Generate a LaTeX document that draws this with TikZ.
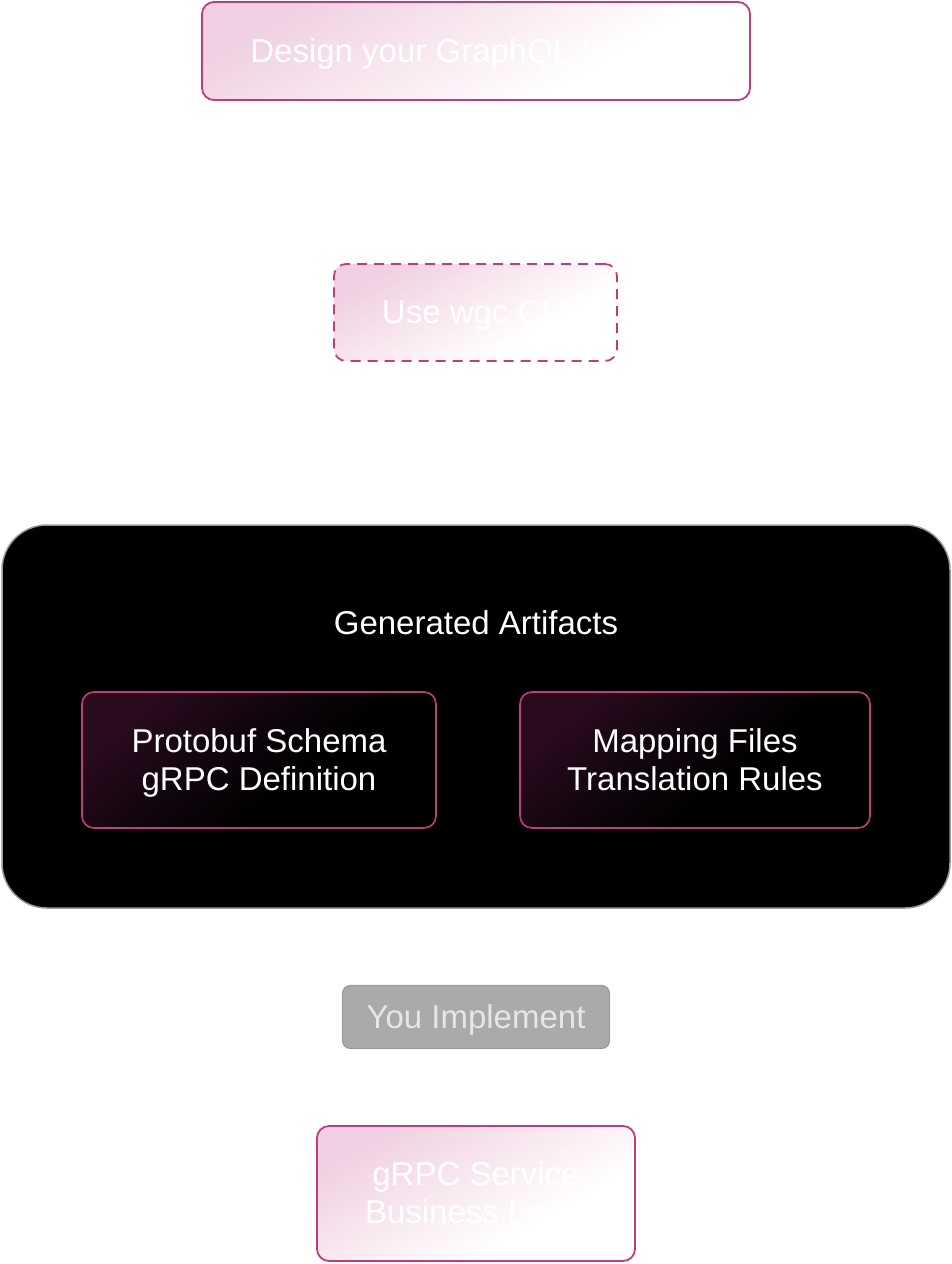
\documentclass[tikz,border=0pt]{standalone}
\usepackage{fontspec}
\setmainfont{Liberation Sans}
\definecolor{pinkb}{HTML}{C43B7D}
\definecolor{pinkl}{HTML}{F0D0E2}
\definecolor{pinkm}{HTML}{F8E8F0}
\definecolor{darkp}{HTML}{2A0B1D}
\definecolor{darkm}{HTML}{120510}
\definecolor{implfill}{HTML}{AAAAAA}
\definecolor{impldraw}{HTML}{9C9C9C}
\definecolor{impltext}{HTML}{E6E6E6}
\pgfdeclareverticalshading{pinkfade}{100bp}{color(0bp)=(white); color(25bp)=(white); color(36bp)=(white); color(55bp)=(pinkm); color(75bp)=(pinkl); color(100bp)=(pinkl)}
\pgfdeclareverticalshading{darkfade}{100bp}{color(0bp)=(black); color(25bp)=(black); color(42bp)=(black); color(58bp)=(darkm); color(75bp)=(darkp); color(100bp)=(darkp)}
\newcommand\lowtxt[1]{\raisebox{-3.5pt}[\height][\depth]{\begin{tabular}{@{}c@{}}#1\end{tabular}}}
\begin{document}
\begin{tikzpicture}[x=1pt,y=-1pt,
  txt/.style={font=\fontsize{33}{38}\selectfont, align=center, inner sep=0pt},
  lightbox/.style={txt, shading=pinkfade, shading angle=30, draw=pinkb, line width=1.8pt, rounded corners=12pt, text=white},
  darkbox/.style={txt, shading=darkfade, shading angle=40, draw=pinkb, line width=1.6pt, rounded corners=12pt, text=white},
  bigbox/.style={fill=black, draw=gray!80, line width=1.5pt, rounded corners=45pt, inner sep=0pt},
  implbox/.style={txt, fill=implfill, draw=impldraw, line width=1.2pt, rounded corners=8pt, text=impltext}
]
\useasboundingbox (0,0) rectangle (952,1264);
\node[lightbox, minimum width=548pt, minimum height=98pt] (design) at (476,51) {\lowtxt{Design your GraphQL Schema}};
\node[lightbox, dash pattern=on 10pt off 7pt, minimum width=283pt, minimum height=97pt] (cli) at (475.5,312.5) {\lowtxt{Use wgc CLI}};
\node[bigbox, minimum width=948pt, minimum height=383pt] (gen) at (476,716.5) {};
\node[txt, text=white] (gentitle) at (476,623) {\lowtxt{Generated Artifacts}};
\node[darkbox, minimum width=354pt, minimum height=136pt] (proto) at (259,760) {\lowtxt{Protobuf Schema\\gRPC Definition}};
\node[darkbox, minimum width=350pt, minimum height=136pt] (map) at (695,760) {\lowtxt{Mapping Files\\Translation Rules}};
\node[implbox, minimum width=267pt, minimum height=63pt] (impl) at (476,1017) {\lowtxt{You Implement}};
\node[lightbox, minimum width=318pt, minimum height=135pt] (svc) at (476,1193.5) {\lowtxt{gRPC Service\\Business Logic}};
\end{tikzpicture}
\end{document}
